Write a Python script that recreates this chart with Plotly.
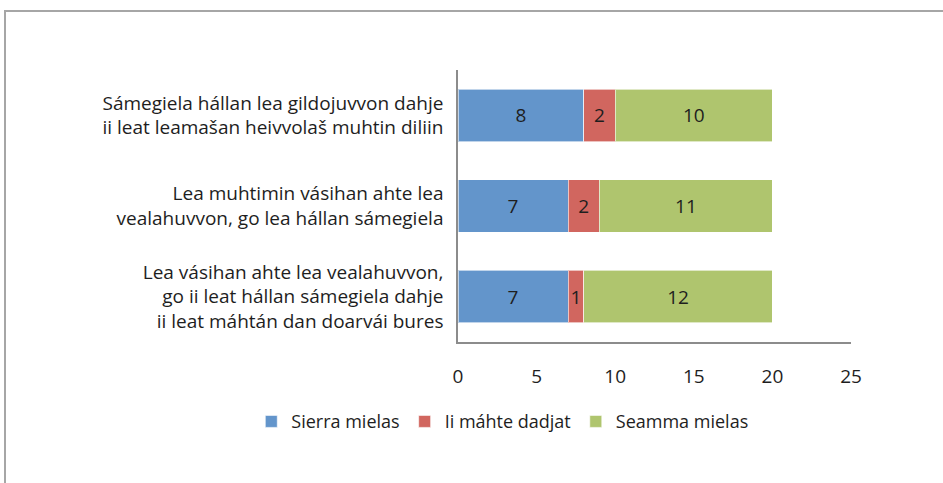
import plotly.graph_objects as go

categories = [
    "Sámegiela hállan lea gildojuvvon dahje<br>ii leat leamašan heivvolaš muhtin diliin",
    "Lea muhtimin vásihan ahte lea<br>vealahuvvon, go lea hállan sámegiela",
    "Lea vásihan ahte lea vealahuvvon,<br>go ii leat hállan sámegiela dahje<br>ii leat máhtán dan doarvái bures",
]
series_names = ["Sierra mielas", "Ii máhte dadjat", "Seamma mielas"]
sierra = [8, 7, 7]
ii_mahte = [2, 2, 1]
seamma = [10, 11, 12]
x_ticks = [0, 5, 10, 15, 20, 25]

colors = ["#6395CB", "#D1665F", "#AFC56E"]
FONT = "Open Sans"
TXT = "#1e1e1e"

fig = go.Figure()
for name, vals, col in zip(series_names, [sierra, ii_mahte, seamma], colors):
    fig.add_trace(go.Bar(
        y=categories, x=vals, name=name, orientation="h",
        marker=dict(color=col, line=dict(color="rgba(255,255,255,0.6)", width=1)),
        text=[str(v) for v in vals], textposition="inside",
        insidetextanchor="middle",
        textfont=dict(family=FONT, size=19, color=TXT),
        hoverinfo="x+name",
    ))

# outer frame of the chart area
fig.add_shape(type="rect", xref="paper", yref="paper",
              x0=(5 - 458) / 393, x1=1.4, y0=-1.0, y1=(342 - 11) / 272,
              line=dict(color="#A6A6A6", width=2), fillcolor="rgba(0,0,0,0)",
              layer="below")

fig.update_layout(
    width=943, height=483,
    margin=dict(l=458, r=92, t=70, b=141),
    barmode="stack", bargap=0.42,
    paper_bgcolor="white", plot_bgcolor="white",
    font=dict(family=FONT, size=18, color=TXT),
    uniformtext=dict(minsize=19, mode="show"),
    showlegend=True,
    legend=dict(orientation="h", x=-0.526, xanchor="left", y=-0.225, yanchor="top",
                font=dict(family=FONT, size=18, color=TXT),
                itemwidth=30, traceorder="normal"),
    xaxis=dict(range=[0, 25], tickvals=x_ticks, ticktext=[str(t) for t in x_ticks],
               showgrid=False, zeroline=False, showline=True,
               linecolor="#8C8C8C", linewidth=1.5, ticks="",
               ticklabelstandoff=16, tickfont=dict(size=19, color=TXT)),
    yaxis=dict(autorange="reversed", showgrid=False, zeroline=False, showline=True,
               linecolor="#8C8C8C", linewidth=1.5, ticks="",
               ticklabelstandoff=9, tickfont=dict(size=19, color=TXT)),
)

fig.write_html("out.html", config={"displayModeBar": False},
               post_script="document.body.style.margin='0';")
